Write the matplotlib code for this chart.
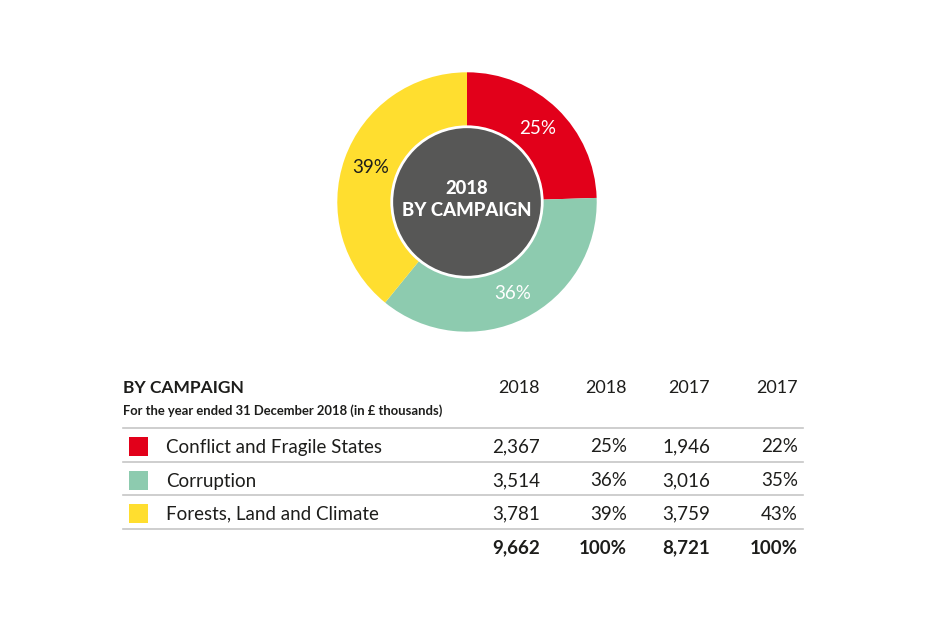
import matplotlib
matplotlib.use("Agg")
import matplotlib.pyplot as plt
from matplotlib.patches import Circle, Rectangle
import numpy as np

plt.rcParams['font.family'] = ['Lato', 'DejaVu Sans']

# data
campaigns = ['Conflict and Fragile States', 'Corruption', 'Forests, Land and Climate']
values_2018 = [2367, 3514, 3781]
pct_2018 = [25, 36, 39]
values_2017 = [1946, 3016, 3759]
pct_2017 = [22, 35, 43]
total_2018 = 9662
total_2017 = 8721
colors = ['#E2001A', '#8DCBAF', '#FFDE2F']
label_colors = ['white', 'white', '#1d1d1b']

W, H = 929, 618
fig = plt.figure(figsize=(W / 100, H / 100), dpi=100)

# donut
cx, cy, R, r_in = 467, 202, 131, 76
ax = fig.add_axes([(cx - R) / W, (H - cy - R) / H, 2 * R / W, 2 * R / H])
wedges, texts = ax.pie(values_2018, colors=colors, startangle=90, counterclock=False,
                       radius=1, wedgeprops=dict(width=0.45, linewidth=0))
for w, p, c in zip(wedges, pct_2018, label_colors):
    ang = np.deg2rad((w.theta1 + w.theta2) / 2)
    ax.text(0.785 * np.cos(ang), 0.785 * np.sin(ang), f'{p}%', color=c,
            ha='center', va='center', fontsize=13.5)
ax.add_patch(Circle((0, 0), r_in / R, facecolor='#575756', edgecolor='white', linewidth=2, zorder=3))
ax.text(0, 0.02, '2018\nBY CAMPAIGN', color='white', fontsize=13.3, fontweight='black',
        ha='center', va='center', linespacing=1.35, zorder=4)
ax.set_xlim(-1.01, 1.01)
ax.set_ylim(-1.01, 1.01)
ax.set_aspect('equal')
ax.axis('off')

# table
t = fig.add_axes([0, 0, 1, 1])
t.set_xlim(0, W)
t.set_ylim(H, 0)
t.axis('off')
dark = '#1d1d1b'
cols = [540, 627, 710, 798]

t.text(123, 388, 'BY CAMPAIGN', fontsize=12.5, fontweight='bold', color=dark, va='center')
t.text(123, 411, 'For the year ended 31 December 2018 (in £ thousands)', fontsize=9.4,
       fontweight='bold', color=dark, va='center')
for x, h in zip(cols, ['2018', '2018', '2017', '2017']):
    t.text(x, 388, h, fontsize=13, color=dark, ha='right', va='center')

for yl in [428, 462, 495, 529]:
    t.plot([123, 803], [yl, yl], color='#c6c6c6', linewidth=1.2)

row_y = [447, 481, 514]
for i, name in enumerate(campaigns):
    y = row_y[i]
    t.add_patch(Rectangle((129, y - 10), 19, 19, facecolor=colors[i], edgecolor='none'))
    t.text(166, y, name, fontsize=13.5, color=dark, va='center')
    row = [f'{values_2018[i]:,}', f'{pct_2018[i]}%', f'{values_2017[i]:,}', f'{pct_2017[i]}%']
    for x, s in zip(cols, row):
        t.text(x, y, s, fontsize=13.5, color=dark, ha='right', va='center')

tot = [f'{total_2018:,}', '100%', f'{total_2017:,}', '100%']
for x, s in zip(cols, tot):
    t.text(x, 548, s, fontsize=13.5, fontweight='bold', color=dark, ha='right', va='center')

fig.savefig('out.png', dpi=100, facecolor='white')
